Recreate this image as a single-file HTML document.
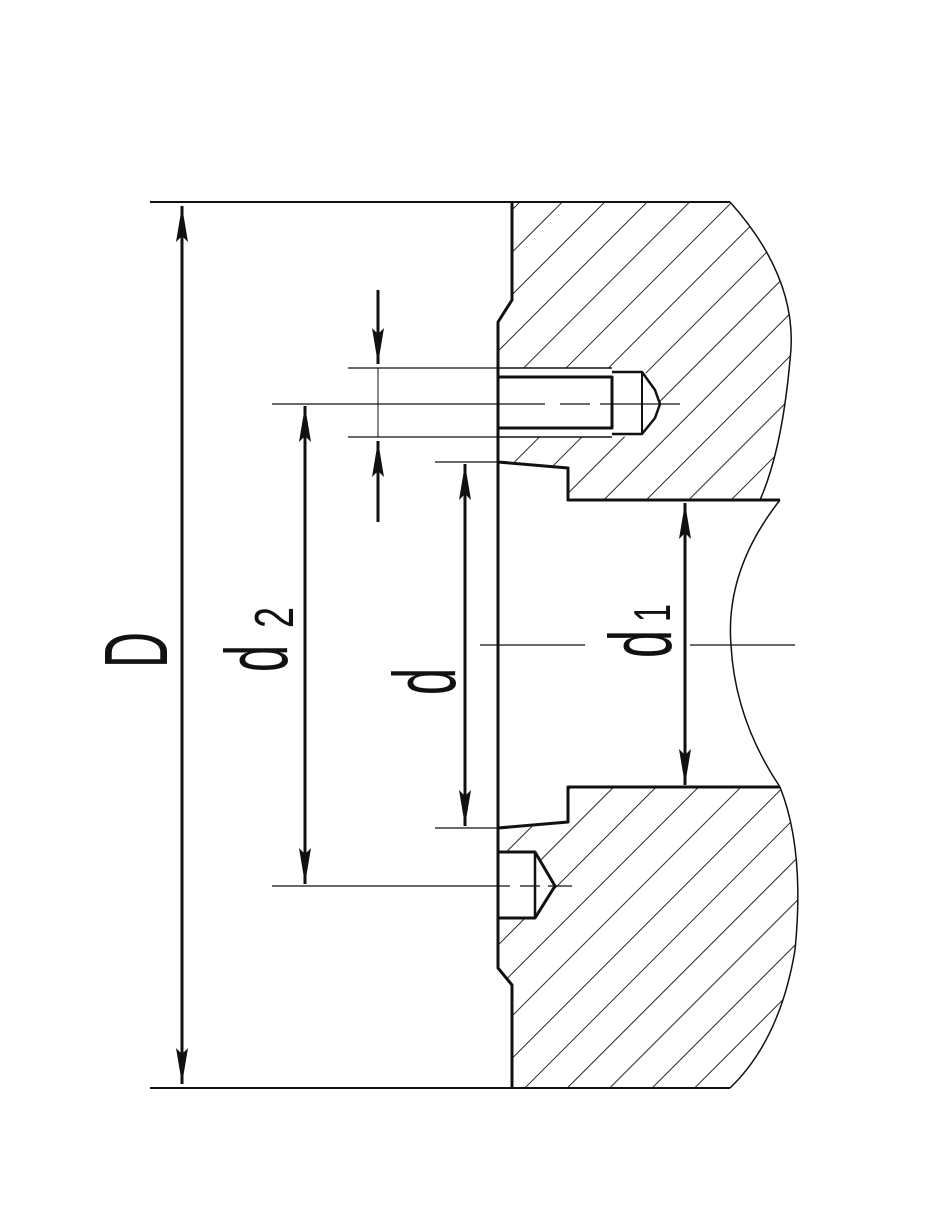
<!DOCTYPE html>
<html><head><meta charset="utf-8"><style>html,body{margin:0;padding:0;background:#fff}svg{display:block}</style></head>
<body>
<svg width="950" height="1214" viewBox="0 0 950 1214" xmlns="http://www.w3.org/2000/svg">
<defs>
<pattern id="h" patternUnits="userSpaceOnUse" width="30" height="30" patternTransform="rotate(45)">
<line x1="0" y1="0" x2="0" y2="30" stroke="#111" stroke-width="1.8"/>
</pattern>
<marker id="a" viewBox="0 0 36 14" refX="36" refY="7" markerWidth="36" markerHeight="14" markerUnits="userSpaceOnUse" orient="auto-start-reverse">
<path d="M0,1 L36,7 L0,13 L6,7 Z" fill="#111"/>
</marker>
</defs>
<path d="M512,202 L730,202 Q800,280 790,360 Q782,450 760,500 L568,500 L568,468 L498,462 L498,322 L512,300 Z" fill="url(#h)"/>
<path d="M498,828 L568,822 L568,787 L780,787 Q805,850 795,950 Q780,1040 730,1088 L512,1088 L512,985 L498,968 Z" fill="url(#h)"/>
<path d="M498,368 L612,368 L645,372 L660,404 L645,436 L612,437 L498,437 Z" fill="#fff"/>
<path d="M498,852 L535,852 L555,886 L535,918 L498,918 Z" fill="#fff"/>
<g fill="none" stroke="#111" stroke-linejoin="round">
<path d="M150,202 L730,202" stroke-width="2"/>
<path d="M150,1088 L730,1088" stroke-width="2"/>
<path d="M512,202 L512,300 L498,322 L498,968 L512,985 L512,1088" stroke-width="3"/>
<path d="M730,202 Q800,280 790,360 Q782,450 760,500" stroke-width="1.5"/>
<path d="M780,500 Q725,570 731,645 Q735,720 780,787" stroke-width="1.5"/>
<path d="M780,787 Q805,850 795,950 Q780,1040 730,1088" stroke-width="1.5"/>
<path d="M498,462 L568,468 L568,500 L780,500" stroke-width="3"/>
<path d="M498,828 L568,822 L568,787 L780,787" stroke-width="3"/>
<path d="M498,377 L612,377 L612,428 L498,428" stroke-width="3"/>
<path d="M498,368 L612,368 M498,437 L612,437" stroke-width="1.5"/>
<path d="M612,372 L642,372 L655,390 L660,404 L655,418 L642,434 L612,434" stroke-width="2.5"/>
<path d="M642,372 L642,434" stroke-width="2"/>
<path d="M498,852 L535,852 L555,886 L535,918 L498,918" stroke-width="3"/>
<path d="M535,852 L535,918" stroke-width="2.5"/>
<g stroke-width="1.3">
<path d="M348,368 L498,368 M348,437 L498,437"/>
<path d="M272,404 L545,404 M560,404 L590,404 M600,404 L680,404"/>
<path d="M435,462 L498,462 M435,828 L498,828"/>
<path d="M272,886 L510,886 M520,886 L540,886 M548,886 L572,886"/>
<path d="M480,645 L585,645 M690,645 L795,645"/>
</g>
<g stroke-width="3">
<path d="M182,206 L182,1084" marker-start="url(#a)" marker-end="url(#a)"/>
<path d="M305,406 L305,884" marker-start="url(#a)" marker-end="url(#a)"/>
<path d="M465,464 L465,826" marker-start="url(#a)" marker-end="url(#a)"/>
<path d="M685,503 L685,785" marker-start="url(#a)" marker-end="url(#a)"/>
<path d="M378,290 L378,364" marker-end="url(#a)"/>
<path d="M378,522 L378,441" marker-end="url(#a)"/>
</g>
<path d="M378,368 L378,437" stroke-width="1"/>
</g>
<g font-family="Liberation Sans, sans-serif" fill="#111">
<text transform="translate(167,668) rotate(-90)" font-size="90" textLength="36" lengthAdjust="spacingAndGlyphs">D</text>
<text transform="translate(287,672) rotate(-90)" font-size="88" textLength="27" lengthAdjust="spacingAndGlyphs">d</text>
<text transform="translate(293,628) rotate(-90)" font-size="55" textLength="21" lengthAdjust="spacingAndGlyphs">2</text>
<text transform="translate(455,695) rotate(-90)" font-size="88" textLength="27" lengthAdjust="spacingAndGlyphs">d</text>
<text transform="translate(671,658) rotate(-90)" font-size="88" textLength="28" lengthAdjust="spacingAndGlyphs">d</text>
<text transform="translate(670,622) rotate(-90)" font-size="52" textLength="18" lengthAdjust="spacingAndGlyphs">1</text>
</g>
</svg>
</body></html>
